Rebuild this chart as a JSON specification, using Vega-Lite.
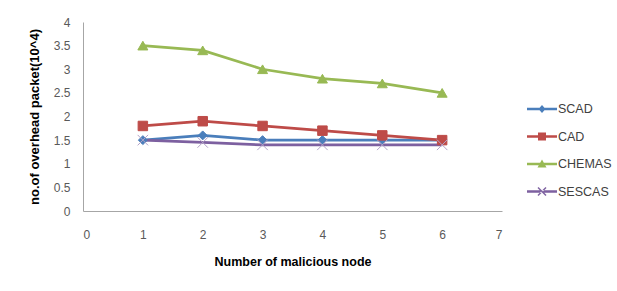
{
  "$schema": "https://vega.github.io/schema/vega-lite/v6.json",
  "width": 419,
  "height": 189,
  "autosize": "none",
  "padding": {"left": 83, "top": 22, "right": 115, "bottom": 80},
  "background": "white",
  "config": {
    "view": {"stroke": null},
    "font": "Liberation Sans",
    "axis": {
      "grid": false,
      "ticks": false,
      "tickSize": 0,
      "labelOverlap": false,
      "domainColor": "#a6a6a6",
      "domainWidth": 1,
      "labelColor": "#595959",
      "labelFont": "Liberation Sans",
      "labelFontSize": 12,
      "titleFont": "Liberation Sans",
      "titleFontSize": 12.5,
      "titleFontWeight": "bold",
      "titleColor": "#000000"
    }
  },
  "data": {
    "values": [
      {"nodes": 1, "series": "SCAD", "value": 1.5},
      {"nodes": 2, "series": "SCAD", "value": 1.6},
      {"nodes": 3, "series": "SCAD", "value": 1.5},
      {"nodes": 4, "series": "SCAD", "value": 1.5},
      {"nodes": 5, "series": "SCAD", "value": 1.5},
      {"nodes": 6, "series": "SCAD", "value": 1.5},
      {"nodes": 1, "series": "CAD", "value": 1.8},
      {"nodes": 2, "series": "CAD", "value": 1.9},
      {"nodes": 3, "series": "CAD", "value": 1.8},
      {"nodes": 4, "series": "CAD", "value": 1.7},
      {"nodes": 5, "series": "CAD", "value": 1.6},
      {"nodes": 6, "series": "CAD", "value": 1.5},
      {"nodes": 1, "series": "CHEMAS", "value": 3.5},
      {"nodes": 2, "series": "CHEMAS", "value": 3.4},
      {"nodes": 3, "series": "CHEMAS", "value": 3.0},
      {"nodes": 4, "series": "CHEMAS", "value": 2.8},
      {"nodes": 5, "series": "CHEMAS", "value": 2.7},
      {"nodes": 6, "series": "CHEMAS", "value": 2.5},
      {"nodes": 1, "series": "SESCAS", "value": 1.5},
      {"nodes": 2, "series": "SESCAS", "value": 1.45},
      {"nodes": 3, "series": "SESCAS", "value": 1.4},
      {"nodes": 4, "series": "SESCAS", "value": 1.4},
      {"nodes": 5, "series": "SESCAS", "value": 1.4},
      {"nodes": 6, "series": "SESCAS", "value": 1.4}
    ]
  },
  "encoding": {
    "x": {
      "field": "nodes",
      "type": "quantitative",
      "scale": {"domain": [0, 7], "nice": false},
      "axis": {"title": "Number of malicious node", "values": [0,1,2,3,4,5,6,7], "format": "d", "labelPadding": 18, "titlePadding": 15}
    },
    "y": {
      "field": "value",
      "type": "quantitative",
      "scale": {"domain": [0, 4], "nice": false},
      "axis": {"title": "no.of overhead packet(10^4)", "titleFontSize": 13, "values": [0,0.5,1,1.5,2,2.5,3,3.5,4], "format": ".2~f", "labelPadding": 13, "titlePadding": 12}
    }
  },
  "layer": [
    {
      "mark": {"type": "line", "strokeWidth": 2.75},
      "encoding": {
        "color": {
          "field": "series",
          "type": "nominal",
          "scale": {"domain": ["SCAD", "CAD", "CHEMAS", "SESCAS"], "range": ["#4A7EBB", "#BE4B48", "#98B954", "#7D60A0"]},
          "legend": null
        },
        "order": {"field": "nodes"}
      }
    },
    {
      "mark": {"type": "point", "filled": true, "opacity": 1, "strokeWidth": 1},
      "encoding": {
        "fill": {
          "field": "series",
          "type": "nominal",
          "scale": {"domain": ["SCAD", "CAD", "CHEMAS", "SESCAS"], "range": ["#4A7EBB", "#BE4B48", "#98B954", "#7D60A0"]},
          "legend": null
        },
        "stroke": {
          "field": "series",
          "type": "nominal",
          "scale": {"domain": ["SCAD", "CAD", "CHEMAS", "SESCAS"], "range": ["#4A7EBB", "#BE4B48", "#98B954", "#B3A2C7"]},
          "legend": null
        },
        "shape": {
          "field": "series",
          "type": "nominal",
          "scale": {"domain": ["SCAD", "CAD", "CHEMAS", "SESCAS"], "range": ["diamond", "square", "triangle-up", "M-1,-1L1,1M-1,1L1,-1"]},
          "legend": null
        },
        "size": {
          "field": "series",
          "type": "nominal",
          "scale": {"domain": ["SCAD", "CAD", "CHEMAS", "SESCAS"], "range": [80, 110, 110, 90]},
          "legend": null
        }
      }
    },
    {
      "mark": {"type": "point", "filled": true, "opacity": 0},
      "encoding": {
        "color": {
          "field": "series",
          "type": "nominal",
          "scale": {"domain": ["SCAD", "CAD", "CHEMAS", "SESCAS"], "range": ["#4A7EBB", "#BE4B48", "#98B954", "#7D60A0"]},
          "legend": {
            "title": null,
            "orient": "none",
            "legendX": 449,
            "legendY": 77,
            "padding": 0,
            "symbolSize": 400,
            "symbolOpacity": 1,
            "symbolStrokeWidth": 0,
            "labelOffset": 6,
            "rowPadding": 10.5,
            "labelFont": "Liberation Sans",
            "labelFontSize": 12.5,
            "labelColor": "#404040"
          }
        },
        "shape": {
          "field": "series",
          "type": "nominal",
          "scale": {"domain": ["SCAD", "CAD", "CHEMAS", "SESCAS"], "range": [
            "M-1.5,-0.12H1.5V0.12H-1.5Z M0,-0.4L0.35,0L0,0.4L-0.35,0Z",
            "M-1.5,-0.12H1.5V0.12H-1.5Z M-0.4,-0.4H0.4V0.4H-0.4Z",
            "M-1.5,-0.12H1.5V0.12H-1.5Z M0,-0.45L0.45,0.35H-0.45Z",
            "M-1.5,-0.12H1.5V0.12H-1.5Z M-0.45,-0.35L-0.35,-0.45L0.45,0.35L0.35,0.45Z M-0.45,0.35L-0.35,0.45L0.45,-0.35L0.35,-0.45Z"
          ]},
          "legend": {
            "title": null,
            "orient": "none",
            "legendX": 449,
            "legendY": 77,
            "padding": 0,
            "symbolSize": 400,
            "symbolOpacity": 1,
            "symbolStrokeWidth": 0,
            "labelOffset": 6,
            "rowPadding": 10.5,
            "labelFont": "Liberation Sans",
            "labelFontSize": 12.5,
            "labelColor": "#404040"
          }
        }
      }
    }
  ],
  "resolve": {"scale": {"color": "independent", "shape": "independent", "size": "independent"}}
}
